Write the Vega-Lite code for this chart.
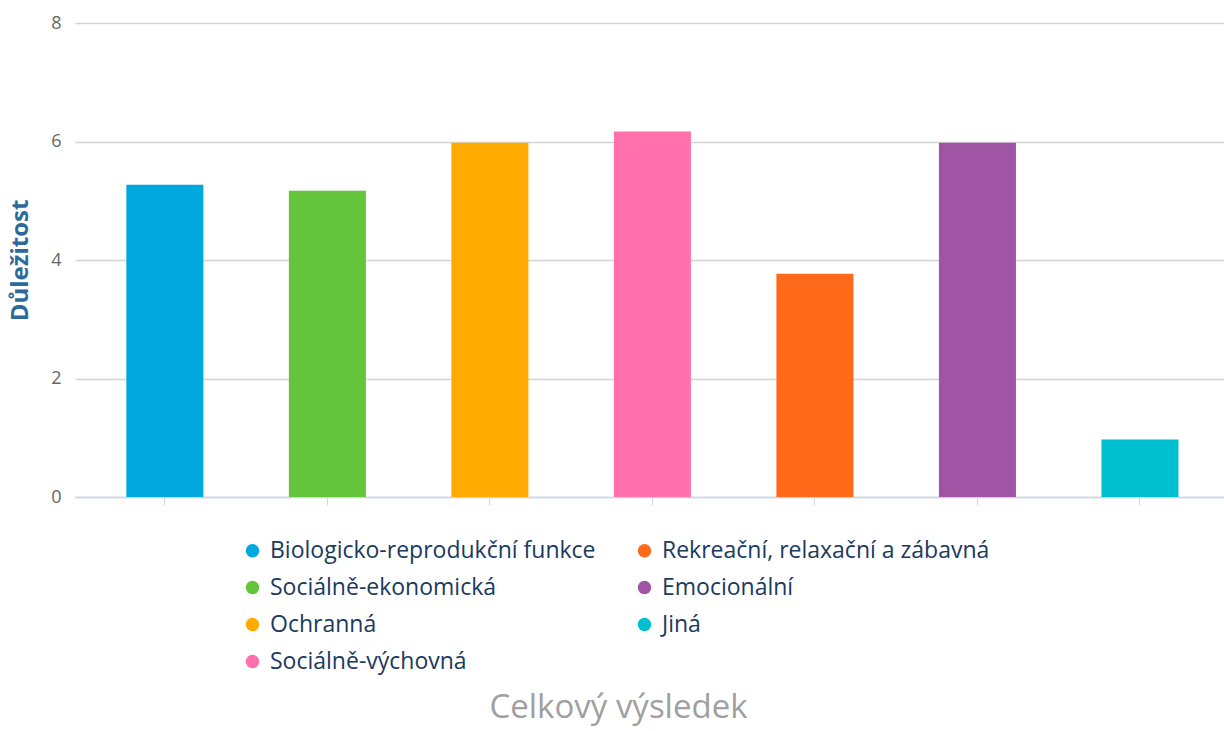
{
  "$schema": "https://vega.github.io/schema/vega-lite/v6.json",
  "autosize": "none",
  "width": 1149,
  "height": 474,
  "padding": {"left": 75, "top": 23, "right": 0, "bottom": 234},
  "background": "white",
  "config": {"view": {"stroke": null}, "font": "Open Sans"},
  "data": {
    "values": [
      {"kategorie": "Biologicko-reprodukční funkce", "poradi": 1, "dulezitost": 5.27},
      {"kategorie": "Sociálně-ekonomická", "poradi": 2, "dulezitost": 5.17},
      {"kategorie": "Ochranná", "poradi": 3, "dulezitost": 5.98},
      {"kategorie": "Sociálně-výchovná", "poradi": 4, "dulezitost": 6.17},
      {"kategorie": "Rekreační, relaxační a zábavná", "poradi": 5, "dulezitost": 3.77},
      {"kategorie": "Emocionální", "poradi": 6, "dulezitost": 5.98},
      {"kategorie": "Jiná", "poradi": 7, "dulezitost": 0.97}
    ]
  },
  "mark": {"type": "bar"},
  "encoding": {
    "x": {
      "field": "kategorie",
      "type": "nominal",
      "sort": {"field": "poradi", "order": "ascending"},
      "scale": {"paddingInner": 0.526, "paddingOuter": 0.298, "align": 0.53},
      "axis": {
        "title": "Celkový výsledek",
        "titleFontSize": 33,
        "titleColor": "#a0a0a0",
        "titleFontWeight": "normal",
        "titlePadding": 186,
        "titleX": 543,
        "labels": false,
        "domainColor": "#ccd6eb",
        "tickColor": "#ccd6eb",
        "tickSize": 8,
        "domainWidth": 1.5
      }
    },
    "y": {
      "field": "dulezitost",
      "type": "quantitative",
      "scale": {"domain": [0, 8], "nice": false},
      "axis": {
        "title": "Důležitost",
        "titleFontSize": 24,
        "titleColor": "#2c6a9c",
        "titleFontWeight": "bold",
        "titlePadding": 18,
        "values": [0, 2, 4, 6, 8],
        "labelFontSize": 18,
        "labelColor": "#666666",
        "labelPadding": 14,
        "domain": false,
        "ticks": false,
        "gridColor": "#d4d4d4",
        "gridWidth": 1.5
      }
    },
    "color": {
      "field": "kategorie",
      "type": "nominal",
      "scale": {
        "domain": ["Biologicko-reprodukční funkce", "Sociálně-ekonomická", "Ochranná", "Sociálně-výchovná", "Rekreační, relaxační a zábavná", "Emocionální", "Jiná"],
        "range": ["#00a8e0", "#64c43c", "#ffaa00", "#ff70ac", "#ff6a1a", "#9f55a3", "#00bfcf"]
      },
      "legend": {
        "title": null,
        "orient": "none",
        "legendX": 166,
        "legendY": 516,
        "columns": 2,
        "symbolType": "circle",
        "symbolSize": 180,
        "symbolStrokeWidth": 0,
        "labelFontSize": 23,
        "labelColor": "#1b3a5e",
        "labelOffset": 6,
        "labelLimit": 500,
        "rowPadding": 13,
        "columnPadding": 37
      }
    }
  }
}
